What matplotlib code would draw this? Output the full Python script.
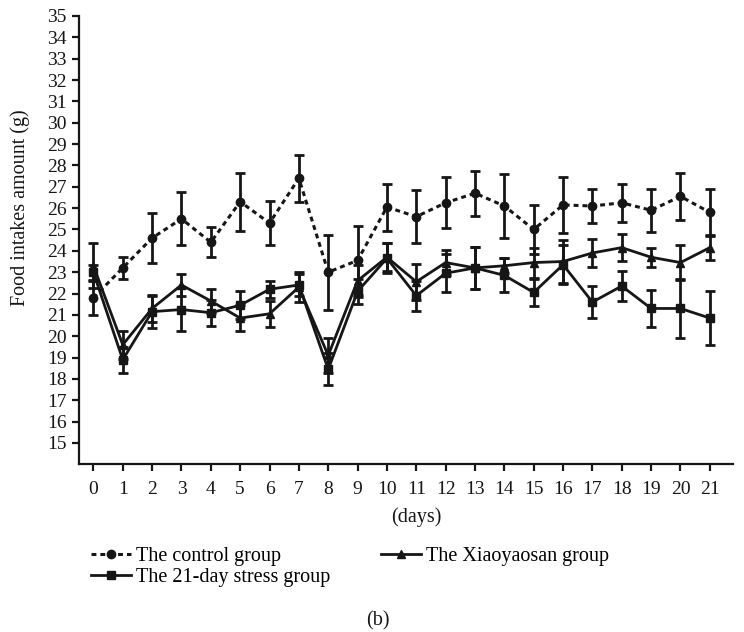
import matplotlib
matplotlib.use("Agg")
import matplotlib.pyplot as plt
from matplotlib.lines import Line2D

plt.rcParams['font.family'] = ['Liberation Serif', 'DejaVu Serif']

days = list(range(22))
day_labels = [str(d) for d in days]
y_ticks = list(range(15, 36))

# The control group
control_mean = [21.8, 23.2, 24.6, 25.5, 24.4, 26.3, 25.3, 27.4, 23.0, 23.55, 26.05,
                25.6, 26.25, 26.7, 26.1, 25.0, 26.15, 26.1, 26.25, 25.9, 26.55, 25.8]
control_err = [0.8, 0.5, 1.15, 1.25, 0.7, 1.35, 1.05, 1.1, 1.75, 1.6, 1.1,
               1.25, 1.2, 1.05, 1.5, 1.15, 1.3, 0.8, 0.9, 1.0, 1.1, 1.1]

# The 21-day stress group
stress_mean = [23.0, 18.9, 21.15, 21.25, 21.1, 21.45, 22.2, 22.4, 18.45, 22.1, 23.65,
               21.9, 22.95, 23.2, 22.85, 22.05, 23.35, 21.6, 22.35, 21.3, 21.3, 20.85]
stress_err = [0.35, 0.6, 0.75, 1.0, 0.6, 0.65, 0.4, 0.5, 0.75, 0.6, 0.7,
              0.7, 0.9, 1.0, 0.8, 0.65, 0.9, 0.75, 0.7, 0.85, 1.4, 1.25]

# The Xiaoyaosan group
xys_mean = [23.3, 19.6, 21.3, 22.4, 21.65, 20.85, 21.05, 22.3, 19.1, 22.6, 23.7,
            22.55, 23.45, 23.2, 23.3, 23.45, 23.5, 23.9, 24.15, 23.7, 23.45, 24.15]
xys_err = [1.05, 0.65, 0.65, 0.5, 0.55, 0.6, 0.6, 0.7, 0.8, 0.75, 0.65,
           0.85, 0.6, 1.0, 0.35, 0.7, 1.0, 0.65, 0.65, 0.45, 0.8, 0.6]

labels = ["The control group", "The 21-day stress group", "The Xiaoyaosan group"]

ink = '#161616'
W, H = 744, 632
fig = plt.figure(figsize=(W / 100, H / 100), dpi=100)
ax = fig.add_axes([79.3 / W, 1 - 464.3 / H, 654 / W, (464.3 - 16) / H])

dash = (0, (1.6, 1.3))
common = dict(color=ink, elinewidth=2.0, capsize=3.8, capthick=2.0, markersize=6)
ax.errorbar(days, control_mean, yerr=control_err, fmt='o', linestyle=dash,
            linewidth=2.2, **common)
ax.errorbar(days, stress_mean, yerr=stress_err, fmt='s', linestyle='-',
            linewidth=2.0, **common)
ax.errorbar(days, xys_mean, yerr=xys_err, fmt='^', linestyle='-',
            linewidth=2.0, **common)

ax.set_xlim(-0.48, 21.8)
ax.set_ylim(14, 35)
ax.set_xticks(days)
ax.set_xticklabels(day_labels)
ax.set_yticks(y_ticks)
for s in ['top', 'right']:
    ax.spines[s].set_visible(False)
for s in ['left', 'bottom']:
    ax.spines[s].set_linewidth(1.6)
    ax.spines[s].set_color(ink)
ax.tick_params(direction='out', length=5, width=1.6, color=ink, labelsize=14, labelcolor=ink)
ax.tick_params(axis='x', pad=7)
ax.tick_params(axis='y', pad=4)

fig.text(20 / W, 1 - 208 / H, "Food intakes amount (g)", rotation=90, ha='center', va='center',
         fontsize=14.5, color=ink)
fig.text(416 / W, 1 - 517 / H, "(days)", ha='center', va='center', fontsize=14.5, color=ink)
fig.text(378 / W, 1 - 621 / H, "(b)", ha='center', va='center', fontsize=14.5, color=ink)

handles = [
    Line2D([], [], color=ink, marker='o', linestyle=dash, linewidth=2.2, markersize=6),
    Line2D([], [], color=ink, marker='s', linestyle='-', linewidth=2.0, markersize=6),
    Line2D([], [], color=ink, marker='^', linestyle='-', linewidth=2.0, markersize=6),
]
fig.legend(handles, labels, loc='upper left', bbox_to_anchor=(91 / W, 1 - 547 / H), ncol=2,
           frameon=False, fontsize=14.5, handlelength=2.0, handletextpad=0.25,
           columnspacing=2.5, labelspacing=0.08, borderpad=0, borderaxespad=0)

fig.savefig("out.png", dpi=100)
